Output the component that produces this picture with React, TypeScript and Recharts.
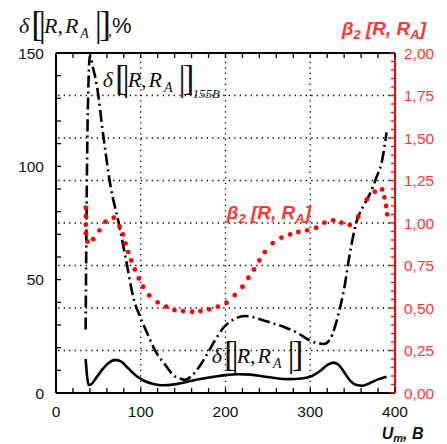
import React from 'react';
import { LineChart, Line, XAxis, YAxis, ReferenceLine } from 'recharts';

// ---- data ----
const solidU = [35, 36.5, 38.5, 42, 48, 55, 62, 70, 77, 85, 95, 105, 115, 125, 140, 155, 170, 185, 200, 215, 230, 245, 260, 275, 290, 302, 312, 320, 327, 333, 340, 347, 355, 362, 370, 380, 390];
const solidDelta = [15, 8, 3.5, 4, 7, 10.5, 13.2, 14.6, 13.8, 11, 7.5, 5.2, 4, 3.4, 3.8, 5, 6.2, 7.1, 7.9, 8.3, 8.1, 7.3, 6.5, 6.1, 6.4, 7.5, 9.8, 12.3, 13.4, 12.6, 9.2, 5.5, 3.5, 3.2, 4.3, 6, 7.2];

const dashU = [35, 35.5, 36.2, 37, 38.2, 40, 44, 48, 56, 64, 74, 82, 92, 100, 108, 118, 129, 138, 147, 152, 160, 168, 178, 188, 198, 210, 222, 232, 245, 258, 270, 285, 298, 308, 316, 323, 329, 334, 340, 346, 355, 362, 370, 378, 385, 390];
const dashDelta = [28, 55, 85, 112, 135, 149, 143, 136, 113, 92, 75, 60, 41, 33, 26, 18, 12.4, 8, 6.3, 5.8, 7.5, 11, 17, 23.5, 29, 32.5, 34, 33.5, 32, 30.5, 29, 26.5, 23.5, 22, 21.6, 23.5, 29, 36, 46, 60, 76, 82, 87.5, 95, 103, 115];

const betaU = [35.2, 35.2, 35.2, 35.3, 37.2, 43.9, 51.3, 58.4, 68.2, 75, 78.9, 82, 85.2, 88.7, 93, 97.7, 102.9, 110, 120, 130, 139.8, 150, 160.7, 170.5, 180.7, 191, 201.2, 211, 220, 227, 233.5, 240, 246.4, 255.8, 266, 276.3, 286, 296.4, 307, 316.8, 327, 336.9, 346.7, 356.6, 367, 376.2, 384.8, 387.5, 389.5, 390.8];
const betaVal = [1.09, 1.04, 0.99, 0.94, 0.89, 0.905, 0.957, 1.008, 1.031, 0.98, 0.933, 0.88, 0.829, 0.78, 0.727, 0.674, 0.625, 0.574, 0.533, 0.508, 0.488, 0.482, 0.478, 0.482, 0.492, 0.508, 0.531, 0.576, 0.625, 0.678, 0.727, 0.78, 0.829, 0.882, 0.914, 0.933, 0.947, 0.957, 0.972, 1.002, 1.016, 1.002, 0.988, 1.037, 1.139, 1.184, 1.198, 1.151, 1.1, 1.051];

const leftTickLabels = [0, 50, 100, 150];
const bottomTickLabels = [0, 100, 200, 300, 400];
const rightTickValues = [0, 0.25, 0.5, 0.75, 1, 1.25, 1.5, 1.75, 2];
const rightTickLabels = ['0,00', '0,25', '0,50', '0,75', '1,00', '1,25', '1,50', '1,75', '2,00'];
const gridU = [100, 200, 300];
const gridBeta = [0.25, 0.5, 0.75, 1, 1.25, 1.5, 1.75];

const leftMinor = Array.from({ length: 16 }, (_, i) => i * 10);
const bottomMinor = Array.from({ length: 21 }, (_, i) => i * 20);
const rightMinor = Array.from({ length: 41 }, (_, i) => Math.round(i * 5) / 100);

const solidData = solidU.map((u, i) => ({ u, v: solidDelta[i] }));
const dashData = dashU.map((u, i) => ({ u, v: dashDelta[i] }));
const betaData = betaU.map((u, i) => ({ u, b: betaVal[i] }));

// ---- layout ----
const W = 447, H = 444;
const PL = 56, PR = 395, PT = 53, PB = 393;
const SANS = "'Liberation Sans', Arial, sans-serif";
const SERIF = "'Liberation Serif', 'Times New Roman', serif";
const RED_TXT = '#ff3333';
const RED = '#ff0000';
const TXT = '#111';

const BottomTick = (p: any) => {
  const v = p.payload.value;
  const x = p.x;
  return (
    <g>
      <line x1={x} x2={x} y1={PB} y2={PB - 5} stroke="#000" strokeWidth={1.3} />
      {bottomTickLabels.includes(v) && (
        <text x={x} y={PB + 24} textAnchor="middle" fontFamily={SANS} fontSize={15.5} fill={TXT}>{v}</text>
      )}
    </g>
  );
};

const TopTick = (p: any) => {
  const x = p.x;
  return <line x1={x} x2={x} y1={PT} y2={PT + 5} stroke="#000" strokeWidth={1.3} />;
};

const LeftTick = (p: any) => {
  const v = p.payload.value;
  const y = p.y;
  return (
    <g>
      <line x1={PL} x2={PL + 5} y1={y} y2={y} stroke="#000" strokeWidth={1.3} />
      {leftTickLabels.includes(v) && (
        <text x={PL - 12} y={y + 5.5} textAnchor="end" fontFamily={SANS} fontSize={15.5} fill={TXT}>{v}</text>
      )}
    </g>
  );
};

const RightTick = (p: any) => {
  const v = p.payload.value;
  const y = p.y;
  const idx = rightTickValues.findIndex((t) => Math.abs(t - v) < 1e-6);
  const major = idx >= 0;
  return (
    <g>
      <line x1={PR} x2={PR - (major ? 6 : 4)} y1={y} y2={y} stroke={RED} strokeWidth={1.3} />
      {major && (
        <text x={PR + 9} y={y + 5.5} textAnchor="start" fontFamily={SANS} fontSize={15.5} fill={RED_TXT}>{rightTickLabels[idx]}</text>
      )}
    </g>
  );
};

const BR = 36;

function Delta({ x, y, sub, tail }: { x: number; y: number; sub?: string; tail?: boolean }) {
  return (
    <text x={x} y={y} fontFamily={SERIF} fontSize={22} fill={TXT}>
      <tspan fontStyle="italic">δ</tspan>
      <tspan fontSize={BR} dx={2} dy={2.5} style={{ letterSpacing: '-4.5px' }}>[|</tspan>
      <tspan fontStyle="italic" dx={2.5} dy={-2.5}>R,</tspan>
      <tspan fontStyle="italic" dx={2}>R</tspan>
      <tspan fontStyle="italic" fontSize={14} dx={2} dy={5}>A</tspan>
      <tspan fontSize={BR} dx={5.8} dy={-2.5} style={{ letterSpacing: '-3px' }}>|]</tspan>
      {sub && <tspan fontStyle="italic" fontSize={13} dx={1} dy={8.5}>{sub}</tspan>}
      {tail && <tspan fontSize={16}>,</tspan>}
      {tail && <tspan fontFamily={SANS} fontSize={22} dy={-2.5}>%</tspan>}
    </text>
  );
}

function Beta({ x, y }: { x: number; y: number }) {
  return (
    <text x={x} y={y} fontFamily={SANS} fontWeight="bold" fontStyle="italic" fontSize={19} fill={RED_TXT}>
      β<tspan fontSize={13} dy={4}>2</tspan>
      <tspan dy={-4}> [R, R</tspan>
      <tspan fontSize={13} dy={4}>A</tspan>
      <tspan dy={-4}>]</tspan>
    </text>
  );
}

export default function App() {
  return (
    <div style={{ position: 'absolute', left: 0, top: 0, width: W, height: H, background: '#fff' }}>
      <LineChart width={W} height={H} margin={{ top: 33, right: 12, bottom: 21, left: 16 }}>
        <XAxis
          dataKey="u"
          type="number"
          domain={[0, 400]}
          ticks={bottomMinor}
          interval={0}
          height={30}
          allowDataOverflow
          axisLine={{ stroke: '#000', strokeWidth: 2 }}
          tickLine={false}
          tick={BottomTick}
        />
        <XAxis
          xAxisId="top"
          orientation="top"
          dataKey="u"
          type="number"
          domain={[0, 400]}
          ticks={bottomMinor}
          interval={0}
          height={20}
          allowDataOverflow
          axisLine={{ stroke: '#000', strokeWidth: 2 }}
          tickLine={false}
          tick={TopTick}
        />
        <YAxis
          yAxisId="left"
          type="number"
          domain={[0, 150]}
          ticks={leftMinor}
          interval={0}
          width={40}
          allowDataOverflow
          axisLine={{ stroke: '#000', strokeWidth: 2 }}
          tickLine={false}
          tick={LeftTick}
        />
        <YAxis
          yAxisId="right"
          orientation="right"
          type="number"
          domain={[0, 2]}
          ticks={rightMinor}
          interval={0}
          width={40}
          allowDataOverflow
          axisLine={{ stroke: RED, strokeWidth: 2 }}
          tickLine={false}
          tick={RightTick}
        />
        {gridBeta.map((b) => (
          <ReferenceLine key={'h' + b} yAxisId="right" y={b} stroke="#000" strokeWidth={1.3} strokeDasharray="1.3 4.2" />
        ))}
        {gridU.map((u) => (
          <ReferenceLine key={'v' + u} yAxisId="left" x={u} stroke="#000" strokeWidth={1.3} strokeDasharray="1.3 4.2" />
        ))}
        <Line
          data={solidData}
          dataKey="v"
          yAxisId="left"
          type="monotone"
          stroke="#000"
          strokeWidth={2.6}
          dot={false}
          isAnimationActive={false}
        />
        <Line
          data={dashData}
          dataKey="v"
          yAxisId="left"
          type="monotone"
          stroke="#000"
          strokeWidth={2.6}
          strokeDasharray="12 4 2 4"
          dot={false}
          isAnimationActive={false}
        />
        <Line
          data={betaData}
          dataKey="b"
          yAxisId="right"
          type="linear"
          stroke="none"
          strokeWidth={0}
          dot={{ r: 2.4, fill: RED, stroke: 'none', strokeWidth: 0 }}
          isAnimationActive={false}
        />
      </LineChart>
      <svg width={W} height={H} style={{ position: 'absolute', left: 0, top: 0, pointerEvents: 'none' }}>
        <Delta x={19} y={33} tail />
        <Beta x={341.7} y={35} />
        <Delta x={102.7} y={87.3} sub="155B" />
        <Beta x={226.7} y={219.3} />
        <Delta x={211.7} y={363.3} />
        <text x={381.7} y={439} fontFamily={SANS} fontWeight="bold" fontStyle="italic" fontSize={16} fill={TXT}>
          U<tspan fontSize={11} dy={3}>m</tspan>
          <tspan dy={-3}>, B</tspan>
        </text>
      </svg>
    </div>
  );
}
